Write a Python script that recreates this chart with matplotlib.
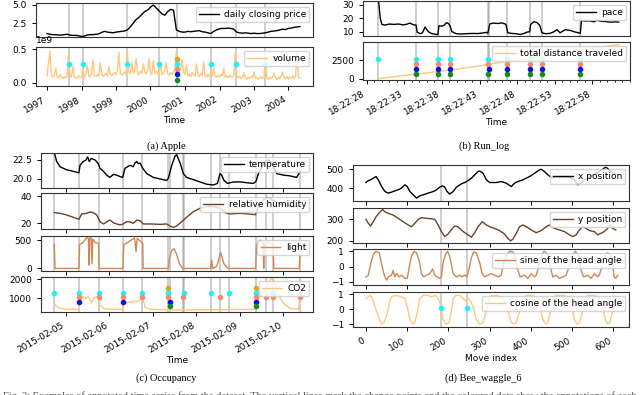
import numpy as np
import pandas as pd
import matplotlib
matplotlib.use("Agg")
import matplotlib.pyplot as plt
import matplotlib.dates as mdates
from matplotlib.ticker import ScalarFormatter
from datetime import datetime

plt.rcParams.update({
    "font.family": ["DejaVu Sans"],
    "font.size": 6.5,
    "xtick.labelsize": 6.5,
    "ytick.labelsize": 6.5,
    "legend.fontsize": 6.5,
    "axes.linewidth": 0.8,
    "axes.edgecolor": "#333333",
    "xtick.major.size": 3,
    "ytick.major.size": 3,
    "xtick.major.width": 0.7,
    "ytick.major.width": 0.7,
})

# ------------------------------------------------------------------ data
# (a) Apple -- monthly closing price from 1997-01, volume (x1e9) every half month
apple_price = [
    1.10, 1.00, 0.95, 0.95, 0.90, 0.90, 0.95, 1.00, 0.90, 0.85, 0.85, 0.80,
    0.70, 0.75, 0.90, 0.95, 0.95, 1.00, 1.05, 1.25, 1.40, 1.30, 1.25, 1.20,
    1.30, 1.35, 1.40, 1.45, 1.60, 2.00, 2.50, 3.00, 3.30, 3.70, 4.10, 4.30,
    4.70, 5.00, 4.60, 4.20, 3.80, 3.60, 4.10, 4.40, 4.30, 1.60, 1.40, 1.30,
    1.30, 1.40, 1.35, 1.40, 1.45, 1.50, 1.35, 1.30, 1.20, 1.10, 1.40, 1.60,
    1.75, 1.80, 1.80, 1.85, 1.80, 1.70, 1.30, 1.20, 1.15, 1.20, 1.15, 1.10,
    1.15, 1.10, 1.10, 1.15, 1.20, 1.30, 1.40, 1.45, 1.50, 1.60, 1.70, 1.65,
    1.80, 1.85, 1.95, 2.00, 2.05,
]
apple_volume_e9 = [
    0.10, 0.30, 0.47, 0.12, 0.08, 0.10, 0.22, 0.09, 0.07, 0.12, 0.08, 0.06,
    0.09, 0.07, 0.12, 0.45, 0.10, 0.08, 0.24, 0.09, 0.06, 0.08, 0.10, 0.07,
    0.09, 0.21, 0.08, 0.12, 0.25, 0.10, 0.08, 0.14, 0.34, 0.11, 0.09, 0.12,
    0.10, 0.30, 0.13, 0.09, 0.11, 0.14, 0.10, 0.24, 0.12, 0.10, 0.13, 0.15,
    0.12, 0.18, 0.45, 0.14, 0.11, 0.13, 0.16, 0.12, 0.43, 0.15, 0.13, 0.30,
    0.14, 0.18, 0.36, 0.15, 0.12, 0.17, 0.14, 0.28, 0.16, 0.13, 0.19, 0.35,
    0.15, 0.12, 0.33, 0.14, 0.17, 0.13, 0.15, 0.26, 0.12, 0.14, 0.18, 0.30,
    0.13, 0.11, 0.15, 0.12, 0.16, 0.20, 0.48, 0.18, 0.14, 0.22, 0.34, 0.15,
    0.12, 0.26, 0.10, 0.13, 0.09, 0.15, 0.11, 0.10, 0.28, 0.12, 0.09, 0.14,
    0.11, 0.31, 0.10, 0.08, 0.12, 0.09, 0.14, 0.10, 0.22, 0.09, 0.08, 0.11,
    0.09, 0.12, 0.10, 0.21, 0.08, 0.10, 0.07, 0.11, 0.09, 0.08, 0.12, 0.44,
    0.09, 0.07, 0.10, 0.06, 0.08, 0.14, 0.07, 0.05, 0.08, 0.06, 0.09, 0.07,
    0.16, 0.06, 0.08, 0.05, 0.07, 0.09, 0.06, 0.08, 0.36, 0.07, 0.05, 0.08,
    0.06, 0.09, 0.14, 0.07, 0.05, 0.08, 0.06, 0.10, 0.16, 0.07, 0.06, 0.09,
    0.05, 0.08, 0.07, 0.10, 0.06, 0.09, 0.44, 0.08, 0.06,
]
apple_cps = [1997.64, 1998.05, 1999.33, 2000.26, 2000.76, 2001.74, 2002.47, 2003.32]
apple_annot = {
    "gold": [2000.76],
    "cyan": [1997.64, 1998.05, 1999.33, 2000.26, 2000.76, 2001.74, 2002.47, 2003.32],
    "salmon": [2000.76],
    "blue": [2000.76],
    "green": [2000.76],
}

# (b) Run_log -- seconds after 18:22:00
pace_sec = [29.55, 29.8, 30.0, 30.4, 31.0, 31.6, 32.2, 32.8, 33.3, 33.75, 34.2, 34.55,
            34.7, 35.1, 35.4, 35.75, 36.2, 36.6, 37.0, 37.45, 37.6, 38.0, 38.3, 38.6,
            38.9, 39.1, 39.3, 39.9, 40.5, 41.2, 42.0, 42.8, 43.5, 43.9, 44.1, 44.35,
            44.8, 45.4, 46.0, 46.5, 46.75, 47.3, 47.9, 48.4, 48.9, 49.3, 49.65, 49.8,
            50.2, 50.6, 51.0, 51.3, 51.8, 52.3, 52.8, 53.3, 53.7, 54.4, 55.1, 55.6,
            56.2, 56.4, 56.55, 57.0, 57.6, 58.2, 58.6, 59.2, 59.8, 60.4, 61.0, 61.5]
pace_val = [34.0, 20.0, 15.6, 15.0, 15.8, 15.5, 15.8, 15.2, 15.6, 16.5, 15.2, 15.0,
            9.8, 8.6, 9.2, 13.5, 10.0, 8.8, 8.3, 7.9, 14.5, 14.2, 15.0, 16.8,
            16.0, 14.0, 10.2, 8.6, 8.4, 8.6, 8.8, 8.7, 9.2, 9.6, 9.0, 15.8,
            16.5, 16.2, 16.6, 15.6, 9.3, 8.8, 8.6, 8.0, 8.8, 9.8, 10.0, 15.5,
            17.5, 17.0, 14.8, 9.3, 8.6, 8.8, 9.8, 11.6, 9.3, 11.6, 11.0, 10.0,
            9.2, 9.0, 18.5, 18.0, 18.2, 17.4, 18.6, 17.8, 17.6, 17.2, 17.4, 17.2]
dist_sec = [29.55, 31, 33, 35, 37, 39, 41, 43, 45, 47, 49, 51, 53, 55, 57, 59, 61.5]
dist_val = [0, 180, 420, 650, 900, 1150, 1450, 1750, 2080, 2380, 2680, 2980,
            3300, 3620, 3950, 4270, 4650]
run_cps = [29.55, 34.55, 37.5, 39.06, 44.1, 44.3, 46.6, 49.7, 51.3, 56.4]
run_annot = {
    "cyan": [29.55, 34.55, 37.5, 39.06, 44.1, 46.6, 49.7, 51.3, 56.4],
    "salmon": [34.55, 37.5, 39.06, 44.1, 46.6, 49.7, 51.3, 56.4],
    "blue": [34.55, 37.5, 39.06, 44.3, 46.6, 49.7, 51.3, 56.4],
    "green": [34.55, 37.5, 39.06, 44.1, 46.6, 49.7, 51.3, 56.4],
}

# (c) Occupancy -- hours after 2015-02-04 00:00
temp_h = [17.7, 19.0, 20.9, 24.5, 28.2, 31.3, 31.9, 33.7, 35.2, 36.1, 37.0, 38.0, 40.2,
          42.0, 42.9, 44.8, 46.6, 48.4, 50.3, 52.1, 54.0, 55.4, 56.7, 59.5, 61.3, 62.2,
          63.2, 64.1, 65.0, 66.5, 68.7, 72.3, 76.0, 79.7, 80.6, 82.5, 84.3, 85.2, 87.1,
          88.9, 90.7, 94.4, 98.1, 101.8, 105.4, 107.7, 109.1, 110.0, 111.3, 113.2, 116.5,
          120.2, 123.8, 127.5, 129.0, 130.3, 132.1, 134.0, 135.8, 137.6, 138.9, 140.4,
          144.1, 147.7, 151.4, 153.3]
temp_val = [23.5, 22.3, 21.6, 21.2, 21.0, 20.8, 21.8, 22.3, 22.5, 22.9, 22.3, 22.7, 22.5,
            22.0, 21.4, 21.0, 20.5, 20.2, 20.6, 20.5, 20.3, 20.2, 21.4, 21.8, 21.6, 22.1,
            22.3, 22.0, 22.1, 21.4, 20.7, 20.2, 20.0, 19.8, 20.1, 21.8, 23.0, 23.2, 22.1,
            20.7, 20.2, 19.9, 19.6, 19.3, 19.2, 19.4, 20.7, 20.5, 19.8, 19.4, 19.6,
            19.6, 19.5, 19.4, 19.7, 20.7, 21.5, 22.3, 22.5, 22.1, 21.4, 20.7,
            20.5, 20.4, 20.2, 21.0]
hum_h = [17.7, 20.9, 24.5, 28.2, 31.3, 32.8, 35.6, 37.4, 39.2, 41.1, 42.9, 44.8, 46.6,
         48.4, 50.3, 52.1, 54.0, 55.8, 57.6, 59.5, 61.3, 63.2, 65.0, 66.8, 70.5, 76.0,
         79.7, 81.5, 83.4, 85.2, 88.0, 90.7, 94.4, 98.1, 101.8, 105.4, 109.1, 111.9,
         114.6, 120.2, 124.8, 128.6, 130.3, 133.0, 134.9, 136.7, 138.6, 142.2, 147.7, 153.3]
hum_val = [27.8, 27.3, 26.1, 24.4, 22.9, 26.8, 27.3, 28.3, 27.8, 26.1, 21.2, 19.5, 21.0,
           22.4, 20.4, 19.5, 18.8, 19.5, 21.2, 21.0, 20.0, 22.4, 21.9, 19.5, 19.5, 19.2,
           19.5, 18.0, 17.0, 18.0, 21.2, 24.4, 28.5, 31.0, 32.2, 32.2, 31.0, 27.8,
           26.8, 27.3, 26.8, 26.3, 32.2, 37.1, 39.0, 38.3, 36.6, 34.1, 32.7, 32.2]
light_h = [17.7, 18.1, 31.3, 31.7, 32.8, 34.1, 35.2, 35.9, 36.5, 36.9, 37.2, 38.0, 38.5,
           38.9, 40.2, 41.5, 42.2, 42.4, 55.6, 56.0, 57.6, 59.5, 61.0, 62.0, 62.8, 63.4,
           64.6, 65.9, 66.5, 66.7, 80.6, 81.2, 82.5, 83.8, 85.2, 86.7, 88.2, 88.9, 104.0,
           104.5, 105.1, 107.3, 108.2, 108.7, 109.5, 110.2, 111.3, 112.8, 114.3, 128.8,
           129.2, 130.3, 131.2, 132.1, 132.9, 133.2, 133.6, 135.8, 137.6, 138.4, 138.8,
           152.9, 153.3]
light_val = [430, 0, 0, 430, 440, 480, 535, 545, 535, 60, 535, 545, 80,
             520, 460, 450, 440, 0, 0, 420, 450, 490, 520, 540, 300, 535,
             500, 460, 440, 0, 0, 180, 320, 350, 250, 90, 10, 0, 0,
             150, 0, 40, 140, 200, 280, 200, 80, 20, 0, 0,
             420, 460, 500, 470, 440, 0, 450, 460, 440, 430, 0,
             0, 440]
co2_h = [17.7, 19.0, 20.9, 24.5, 31.3, 31.9, 33.7, 35.2, 36.5, 38.3, 39.2, 41.1, 42.2,
         42.9, 44.8, 48.4, 55.6, 56.2, 57.6, 59.5, 60.4, 61.3, 62.8, 64.1, 65.9, 66.5,
         67.8, 70.5, 79.7, 88.9, 98.1, 107.3, 116.5, 128.6, 129.4, 131.2, 133.0, 134.9,
         136.7, 138.2, 139.5, 141.3, 144.1, 147.7, 152.3, 153.3]
co2_val = [740, 560, 470, 420, 420, 910, 1090, 1000, 1080, 770, 1000, 1090, 1050,
           650, 470, 420, 420, 740, 770, 820, 760, 880, 800, 850, 1000, 1000,
           530, 420, 390, 390, 395, 400, 410, 420, 740, 1090, 1350, 1610,
           1960, 2100, 1790, 1180, 740, 470, 420, 1000]
occ_cps = [17.73, 31.52, 42.19, 55.80, 66.28, 80.26, 81.54, 88.53, 89.27, 104.35,
           109.13, 114.28, 128.99, 134.51, 138.55, 153.26]
occ_annot = {
    "gold": [80.26, 128.99],
    "cyan": [17.73, 31.52, 42.19, 55.80, 66.28, 80.26, 89.27, 104.35, 114.28, 128.99, 138.55],
    "salmon": [31.52, 42.19, 55.80, 66.28, 80.26, 88.53, 109.13, 128.99, 134.51, 138.55, 153.26],
    "blue": [31.52, 55.80, 81.54, 128.99],
    "green": [81.54, 128.99],
}

# (d) Bee_waggle_6 -- move index
xpos_idx = [0, 5.6, 11.3, 17.7, 24.2, 29.8, 37.9, 46, 54, 62, 70, 78, 86, 94.4, 100, 106.5,
            114.5, 122.6, 130.6, 138.7, 150.8, 163, 171, 179, 185.5, 191, 196.8, 203, 211.3,
            219.4, 231.5, 239.5, 247.6, 255.6, 263.7, 271.8, 275.8, 283.9, 292, 300, 316, 328,
            340, 352.4, 360.5, 368.5, 380.6, 396.8, 408.9, 421, 425, 433, 441, 449, 457, 469,
            493.5, 505.6, 513.7, 521.8, 529.8, 538, 550, 562, 574, 580.6, 586, 594, 602, 606]
xpos_val = [431, 441, 445, 453, 462, 445, 410, 384, 376, 381, 388, 393, 402, 419, 410, 384,
            367, 350, 362, 367, 376, 384, 393, 407, 414, 407, 384, 371, 384,
            407, 424, 431, 441, 453, 471, 488, 491, 479, 445, 431, 431, 436,
            428, 410, 428, 436, 445, 462, 479, 497, 500, 488, 471, 459, 459, 459,
            459, 445, 419, 428, 445, 453, 471, 483, 500, 510, 505, 488, 476, 474]
ypos_idx = [0, 5.6, 11.3, 17.7, 24.2, 32.3, 40.3, 46, 54, 66, 78, 90.3, 102.4, 110.5, 118.5,
            126.6, 134.7, 146.8, 158.9, 167, 175, 183, 191, 199, 207, 215, 223, 231.5, 239.5,
            247.6, 255.6, 263.7, 271.8, 282, 292, 300, 312, 324, 336, 344, 350.8, 356.5,
            364.5, 372.6, 380.6, 388.7, 400.8, 413, 425, 437, 445, 457, 469, 481.5, 493.5,
            501.6, 509.7, 517.7, 525.8, 534, 542, 554, 562, 570, 578, 586, 592, 598, 606]
ypos_val = [300, 282, 269, 289, 312, 331, 346, 335, 328, 320, 305, 289, 274, 266, 282,
            300, 308, 305, 303, 300, 274, 243, 220, 232, 251, 269, 266, 251, 238,
            228, 217, 238, 266, 289, 274, 266, 258, 248, 232, 212, 200, 208,
            235, 266, 274, 266, 251, 238, 248, 266, 274, 258, 251, 243, 228,
            220, 228, 251, 266, 258, 248, 243, 228, 235, 243, 258, 274, 258, 251]
sine_idx = [0, 5.6, 11.3, 17.7, 24.2, 32.3, 37.9, 44.4, 50, 54, 62, 66, 70, 74, 80.6, 86,
            94.4, 100, 104.8, 110.5, 117, 122.6, 129, 134.7, 140.3, 146.8, 154.8, 161.3, 167,
            172.6, 179, 183, 187, 192.7, 197.6, 203, 207, 211.3, 219.4, 227.4, 231.5, 239.5,
            245, 250, 255.6, 261.3, 267.7, 275.8, 281.5, 288, 296, 304, 312, 320, 328, 332,
            340, 348, 356.5, 362, 368.5, 374, 384.7, 392.7, 400.8, 408.9, 413, 421, 429, 433,
            441, 447.6, 453, 461, 469, 477, 485.5, 493.5, 501.6, 508, 516, 521.8, 528, 538,
            546, 554, 562, 566, 574, 580.6, 586, 592.7, 598, 602, 606, 610.5]
sine_val = [-0.67, -0.56, 0.17, 0.79, 1.0, 0.90, 0.17, -0.56, -0.88, -0.67, -0.56, -0.25,
            -0.67, -0.46, -0.67, -0.56, -0.77, -0.77, -0.04, 0.69, 1.0, 0.90, 0.38, -0.46,
            -0.67, -0.56, -0.46, -0.15, -0.56, -0.67, -0.77, -0.67, 0.27, 0.79, 1.0, 0.69,
            0.17, -0.46, -0.67, -0.56, -0.67, -0.56, -0.67, -0.15, 0.58, 0.96, 0.90, 0.27,
            -0.46, -0.67, -0.56, -0.46, -0.56, -0.67, -0.56, 0.06, 0.69, 1.0, 0.96, 0.58,
            -0.25, -0.67, -0.56, -0.77, -0.46, -0.67, -0.56, 0.17, 0.90, 1.0, 0.79, -0.04,
            -0.67, -0.56, -0.77, -0.67, -0.56, 0.06, 0.79, 1.0, 0.69, -0.25, -0.67, -0.56,
            -0.77, -0.46, -0.67, -0.56, 0.17, 0.79, 0.90, 0.79, 0.17, -0.67, -0.77, -0.56]
cos_idx = [0, 5.6, 9.7, 13.7, 19.4, 25.8, 32.3, 37.9, 43.5, 50, 56.5, 62, 70, 78, 86, 94.4,
           100, 106.5, 113, 118.5, 125, 130.6, 138.7, 150.8, 158.9, 169.4, 177.4, 183, 187,
           195, 201.6, 207, 211.3, 217.7, 227.4, 235.5, 242, 247.6, 253, 259.7, 267.7, 275.8,
           283.9, 292, 298.4, 304, 316, 328, 336.3, 344.4, 352.4, 358.9, 364.5, 372.6, 380.6,
           388.7, 400.8, 413, 421, 429, 435.5, 441, 447.6, 453, 461, 477, 489.5, 497.6, 505.6,
           512, 517.7, 525.8, 529.8, 538, 554, 564.5, 574, 580.6, 586, 592, 598, 602, 606]
cos_val = [0.71, 0.82, 0.92, 0.82, 0.39, -0.15, -0.69, -1.01, -0.90, -0.47, 0.39, 0.82,
           0.92, 0.88, 0.82, 0.71, 0.17, -0.69, -1.01, -0.90, -0.15, 0.71, 0.92, 0.92,
           0.82, 0.92, 0.60, -0.04, -0.69, -1.01, -0.90, -0.15, 0.71, 0.92, 0.92, 0.71,
           0.54, 0.71, 0.60, 0.17, -0.69, -1.01, -0.90, -0.15, 0.71, 0.92, 0.92, 0.82,
           0.60, -0.15, -0.90, -1.01, -0.90, -0.15, 0.71, 0.92, 0.92, 0.82, 0.28, -0.69,
           -1.01, -0.90, -0.15, 0.71, 0.92, 0.92, 0.82, 0.28, -0.69, -1.01, -0.90, -0.15,
           0.71, 0.92, 0.92, 0.82, 0.17, -0.69, -1.01, -0.90, -0.15, 0.49, 0.60]
bee_cps = [182, 246]
bee_annot = {"cyan": [182, 246]}

captions = ["(a) Apple", "(b) Run_log", "(c) Occupancy", "(d) Bee_waggle_6"]
fig_caption = ("Fig. 3: Examples of annotated time series from the dataset. The vertical lines "
               "mark the change points and the coloured dots show the annotations of each annotator.")

# ------------------------------------------------------------------ styling
cmap = plt.get_cmap("copper")
ANN_COL = {"gold": "#daa520", "cyan": "#1ef2f2", "salmon": "#f58a6c",
           "blue": "#1010f0", "green": "#178a17"}
ANN_LEVEL = {"gold": 0.69, "cyan": 0.555, "salmon": 0.425, "blue": 0.295, "green": 0.16}

W, H = 640, 395
fig = plt.figure(figsize=(W / 100, H / 100), dpi=100)


def add(l, r, t, b):
    return fig.add_axes([l / W, 1 - b / H, (r - l) / W, (b - t) / H])


def vlines(ax, xs):
    for x in xs:
        ax.axvline(x, color="grey", alpha=0.45, lw=1.2, zorder=1)


def dots(ax, annot):
    for name, xs in annot.items():
        ax.scatter(xs, [ANN_LEVEL[name]] * len(xs), s=16, color=ANN_COL[name],
                   transform=ax.get_xaxis_transform(), zorder=3, linewidths=0)


def leg(ax):
    ax.legend(loc="upper right", handlelength=2.2, borderpad=0.35, labelspacing=0.2,
              handletextpad=0.6, borderaxespad=0.4, framealpha=0.8)


def yr(y):
    base = int(y)
    s, e = datetime(base, 1, 1), datetime(base + 1, 1, 1)
    return s + (e - s) * (y - base)


# ---------------- (a) Apple
a1 = add(36, 313, 3, 37)
a2 = add(36, 313, 47, 86)
price_dates = pd.date_range("1997-01-01", periods=len(apple_price), freq="MS")
vol_dates = pd.date_range("1997-01-01", "2004-05-01", periods=len(apple_volume_e9))
cp_dates = [yr(v) for v in apple_cps]
a1.plot(price_dates, apple_price, color=cmap(0.0), lw=1.0, label="daily closing price", zorder=2)
a2.plot(vol_dates, np.array(apple_volume_e9) * 1e9, color=cmap(1.0), lw=1.0, label="volume", zorder=2)
for ax in (a1, a2):
    vlines(ax, cp_dates)
    ax.set_xlim(yr(1996.68), yr(2004.71))
    ax.xaxis.set_major_locator(mdates.YearLocator())
    ax.xaxis.set_major_formatter(mdates.DateFormatter("%Y"))
dots(a2, {k: [yr(v) for v in xs] for k, xs in apple_annot.items()})
a1.set_ylim(0.63, 5.27)
a1.set_yticks([2.5, 5.0])
a2.set_ylim(-0.05e9, 0.53e9)
a2.set_yticks([0, 0.5e9])
vol_fmt = ScalarFormatter()
vol_fmt.set_powerlimits((9, 9))
a2.yaxis.set_major_formatter(vol_fmt)
a1.tick_params(axis="x", bottom=False, labelbottom=False)
leg(a1); leg(a2)
a2.set_xlabel("Time", labelpad=1)

# ---------------- (b) Run_log
b1 = add(363, 630, 1, 36)
b2 = add(363, 630, 42, 80)
t0 = pd.Timestamp("2017-01-01 18:22:00")
to_t = lambda secs: t0 + pd.to_timedelta(np.asarray(secs, dtype=float), unit="s")
b1.plot(to_t(pace_sec), pace_val, color=cmap(0.0), lw=1.0, label="pace", zorder=2)
b2.plot(to_t(dist_sec), dist_val, color=cmap(1.0), lw=1.0, label="total distance traveled", zorder=2)
for ax in (b1, b2):
    vlines(ax, to_t(run_cps))
    ax.set_xlim(to_t([27.5])[0], to_t([63.0])[0])
    ax.xaxis.set_major_locator(mdates.SecondLocator(bysecond=[28, 33, 38, 43, 48, 53, 58]))
    ax.xaxis.set_minor_locator(mdates.SecondLocator())
    ax.xaxis.set_major_formatter(mdates.DateFormatter("%H:%M:%S"))
    ax.tick_params(axis="x", which="minor", length=1.5, width=0.6)
dots(b2, {k: to_t(xs) for k, xs in run_annot.items()})
b1.set_ylim(6.9, 32.9)
b1.set_yticks([10, 20, 30])
b2.set_ylim(-190, 5000)
b2.set_yticks([0, 2500])
b1.tick_params(axis="x", which="both", bottom=False, labelbottom=False)
leg(b1); leg(b2)
b2.set_xlabel("Time", labelpad=1)

# ---------------- (c) Occupancy
c_axes = [add(41, 313, 153, 188), add(41, 313, 193, 229), add(41, 313, 236, 271), add(41, 313, 277, 312)]
d0 = pd.Timestamp("2015-02-04")
to_h = lambda hrs: d0 + pd.to_timedelta(np.asarray(hrs, dtype=float), unit="h")
c_series = [(temp_h, temp_val, "temperature", (18.8, 23.42), [20.0, 22.5]),
            (hum_h, hum_val, "relative humidity", (15.8, 42.2), [20, 40]),
            (light_h, light_val, "light", (-45, 575), [0, 500]),
            (co2_h, co2_val, "CO2", (280, 2120), [1000, 2000])]
for i, (ax, (hx, hv, lab, yl, yt)) in enumerate(zip(c_axes, c_series)):
    ax.plot(to_h(hx), hv, color=cmap(i / 3), lw=1.0, label=lab, zorder=2)
    vlines(ax, to_h(occ_cps))
    ax.set_xlim(to_h([10.37])[0], to_h([160.4])[0])
    ax.xaxis.set_major_locator(mdates.DayLocator())
    ax.xaxis.set_major_formatter(mdates.DateFormatter("%Y-%m-%d"))
    ax.set_ylim(*yl)
    ax.set_yticks(yt)
    if i < 3:
        ax.tick_params(axis="x", labelbottom=False)
    leg(ax)
dots(c_axes[3], {k: to_h(xs) for k, xs in occ_annot.items()})
c_axes[3].set_xlabel("Time", labelpad=1)

# ---------------- (d) Bee_waggle_6
d_axes = [add(353, 629, 165, 201), add(353, 629, 208, 243), add(353, 629, 249, 285), add(353, 629, 292, 327)]
d_series = [(xpos_idx, xpos_val, "x position", (335, 522), [400, 500]),
            (ypos_idx, ypos_val, "y position", (190, 353), [200, 300]),
            (sine_idx, sine_val, "sine of the head angle", (-1.2, 1.15), [-1, 0, 1]),
            (cos_idx, cos_val, "cosine of the head angle", (-1.2, 1.15), [-1, 0, 1])]
for i, (ax, (ix, iv, lab, yl, yt)) in enumerate(zip(d_axes, d_series)):
    ax.plot(ix, iv, color=cmap(i / 3), lw=1.0, label=lab, zorder=2)
    vlines(ax, bee_cps)
    ax.set_xlim(-31.5, 638)
    ax.set_xticks([0, 100, 200, 300, 400, 500, 600])
    ax.set_ylim(*yl)
    ax.set_yticks(yt)
    if i < 3:
        ax.tick_params(axis="x", labelbottom=False)
    leg(ax)
dots(d_axes[3], bee_annot)
d_axes[3].set_xlabel("Move index", labelpad=1)

for ax in (a2, b2, c_axes[3], d_axes[3]):
    for lbl in ax.get_xticklabels():
        lbl.set_rotation(30)
        lbl.set_ha("right")

# ---------------- captions
cap_font = dict(family=["Liberation Serif", "DejaVu Serif"], fontsize=7.5, ha="center", va="center")
fig.text(166 / W, 1 - 146 / H, captions[0], **cap_font)
fig.text(484 / W, 1 - 146 / H, captions[1], **cap_font)
fig.text(166 / W, 1 - 378 / H, captions[2], **cap_font)
fig.text(483 / W, 1 - 378 / H, captions[3], **cap_font)
fig.text(0.005, 1 - 391 / H, fig_caption, family=["Liberation Serif", "DejaVu Serif"],
         fontsize=7.5, ha="left", va="top", color="#555555")

fig.savefig("out.png", dpi=100)
